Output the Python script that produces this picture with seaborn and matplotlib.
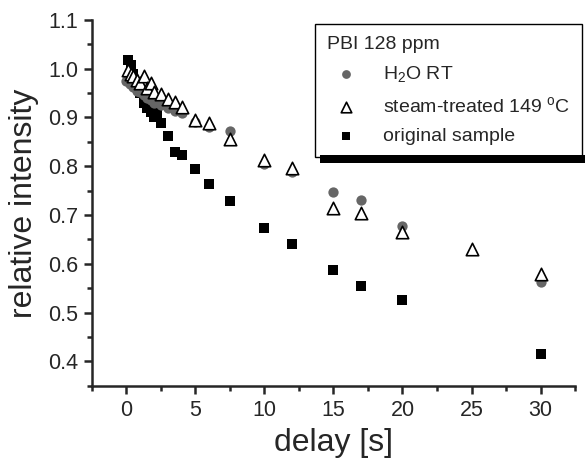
import numpy as np
import pandas as pd
import matplotlib
matplotlib.use("Agg")
import matplotlib.pyplot as plt
import seaborn as sns
from matplotlib.patches import Rectangle

# ---- data ----
h2o_x = [0.0, 0.25, 0.5, 0.75, 1.0, 1.25, 1.5, 1.75, 2.0, 2.5, 3.0, 3.5, 4.0, 5.0, 6.0, 7.5, 10, 12, 15, 17, 20, 30]
h2o_y = [0.975, 0.968, 0.963, 0.955, 0.952, 0.946, 0.940, 0.936, 0.930, 0.925, 0.920, 0.914, 0.910, 0.890, 0.881, 0.873, 0.805, 0.789, 0.747, 0.731, 0.678, 0.563]

steam_x = [0.1, 0.3, 0.5, 0.75, 1.0, 1.25, 1.5, 1.75, 2.0, 2.5, 3.0, 3.5, 4.0, 5.0, 6.0, 7.5, 10, 12, 15, 17, 20, 25, 30]
steam_y = [0.998, 0.990, 0.984, 0.977, 0.970, 0.984, 0.961, 0.971, 0.953, 0.947, 0.938, 0.932, 0.922, 0.895, 0.889, 0.856, 0.813, 0.797, 0.715, 0.704, 0.665, 0.630, 0.579]

orig_x = [0.1, 0.3, 0.5, 0.75, 1.0, 1.25, 1.5, 1.75, 2.0, 2.25, 2.5, 3.0, 3.5, 4.0, 5.0, 6.0, 7.5, 10, 12, 15, 17, 20, 30]
orig_y = [1.018, 1.008, 0.988, 0.968, 0.950, 0.930, 0.920, 0.912, 0.900, 0.910, 0.889, 0.862, 0.830, 0.823, 0.795, 0.764, 0.729, 0.673, 0.640, 0.587, 0.554, 0.526, 0.415]

labels = ["H$_2$O RT", "steam-treated 149 $^{\\rm o}$C", "original sample"]
legend_title = "PBI 128 ppm"
x_ticks = [0, 5, 10, 15, 20, 25, 30]
y_ticks = [0.4, 0.5, 0.6, 0.7, 0.8, 0.9, 1.0, 1.1]

sns.set_style("ticks")
plt.rcParams["font.family"] = ["Liberation Sans", "DejaVu Sans"]
plt.rcParams["mathtext.fontset"] = "custom"
plt.rcParams["mathtext.rm"] = "Liberation Sans"
plt.rcParams["mathtext.it"] = "Liberation Sans"

fig = plt.figure(figsize=(5.85, 4.61), dpi=100)
ax = fig.add_axes([0.157, 0.163, 0.826, 0.794])

df_h = pd.DataFrame({"x": h2o_x, "y": h2o_y})
df_s = pd.DataFrame({"x": steam_x, "y": steam_y})
df_o = pd.DataFrame({"x": orig_x, "y": orig_y})

sns.scatterplot(data=df_h, x="x", y="y", ax=ax, marker="o", s=55, color="#666666",
                edgecolor="#666666", linewidth=0, label=labels[0], zorder=3)
sns.scatterplot(data=df_s, x="x", y="y", ax=ax, marker="^", s=80, facecolor="white",
                edgecolor="black", linewidth=1.2, label=labels[1], zorder=4)
sns.scatterplot(data=df_o, x="x", y="y", ax=ax, marker="s", s=42, color="black",
                edgecolor="black", linewidth=0, label=labels[2], zorder=2)

ax.set_xlim(-2.5, 32.5)
ax.set_ylim(0.35, 1.1)
ax.set_xticks(x_ticks)
ax.set_yticks(y_ticks)
ax.set_xticklabels([str(v) for v in x_ticks])
ax.set_yticklabels([f"{v:.1f}" for v in y_ticks])
ax.set_xticks([-2.5 + 5 * i for i in range(8)], minor=True)
ax.set_yticks([0.35 + 0.1 * i for i in range(8)], minor=True)
ax.tick_params(axis="both", which="major", direction="out", length=6, width=1.8, labelsize=15.5, pad=4)
ax.tick_params(axis="both", which="minor", direction="out", length=3.5, width=1.8)
for side in ["left", "bottom"]:
    ax.spines[side].set_linewidth(1.8)
sns.despine(ax=ax)

ax.set_xlabel("delay [s]", fontsize=23, labelpad=5)
ax.set_ylabel("relative intensity", fontsize=23, labelpad=6)

handles, _ = ax.get_legend_handles_labels()
leg = ax.legend(handles, labels, title=legend_title, loc="upper left",
                bbox_to_anchor=(315 / 585, 1 - 24 / 461), bbox_transform=fig.transFigure,
                fontsize=14, title_fontsize=14, alignment="left", frameon=True,
                fancybox=False, edgecolor="black", framealpha=1,
                borderpad=0.6, handletextpad=0.9, labelspacing=0.6, borderaxespad=0,
                markerscale=0.85)
leg.get_frame().set_linewidth(1.0)

fig.canvas.draw()
bb = leg.get_window_extent()
inv = fig.transFigure.inverted()
(x0, y0), (x1, y1) = inv.transform([[bb.x0 + 5, bb.y0 - 6], [bb.x1 + 5, bb.y0 + 2]])
fig.patches.append(Rectangle((x0, y0), x1 - x0, y1 - y0, transform=fig.transFigure,
                             facecolor="black", edgecolor="none", zorder=1))
leg.set_zorder(10)

fig.savefig("out.png", dpi=100)
